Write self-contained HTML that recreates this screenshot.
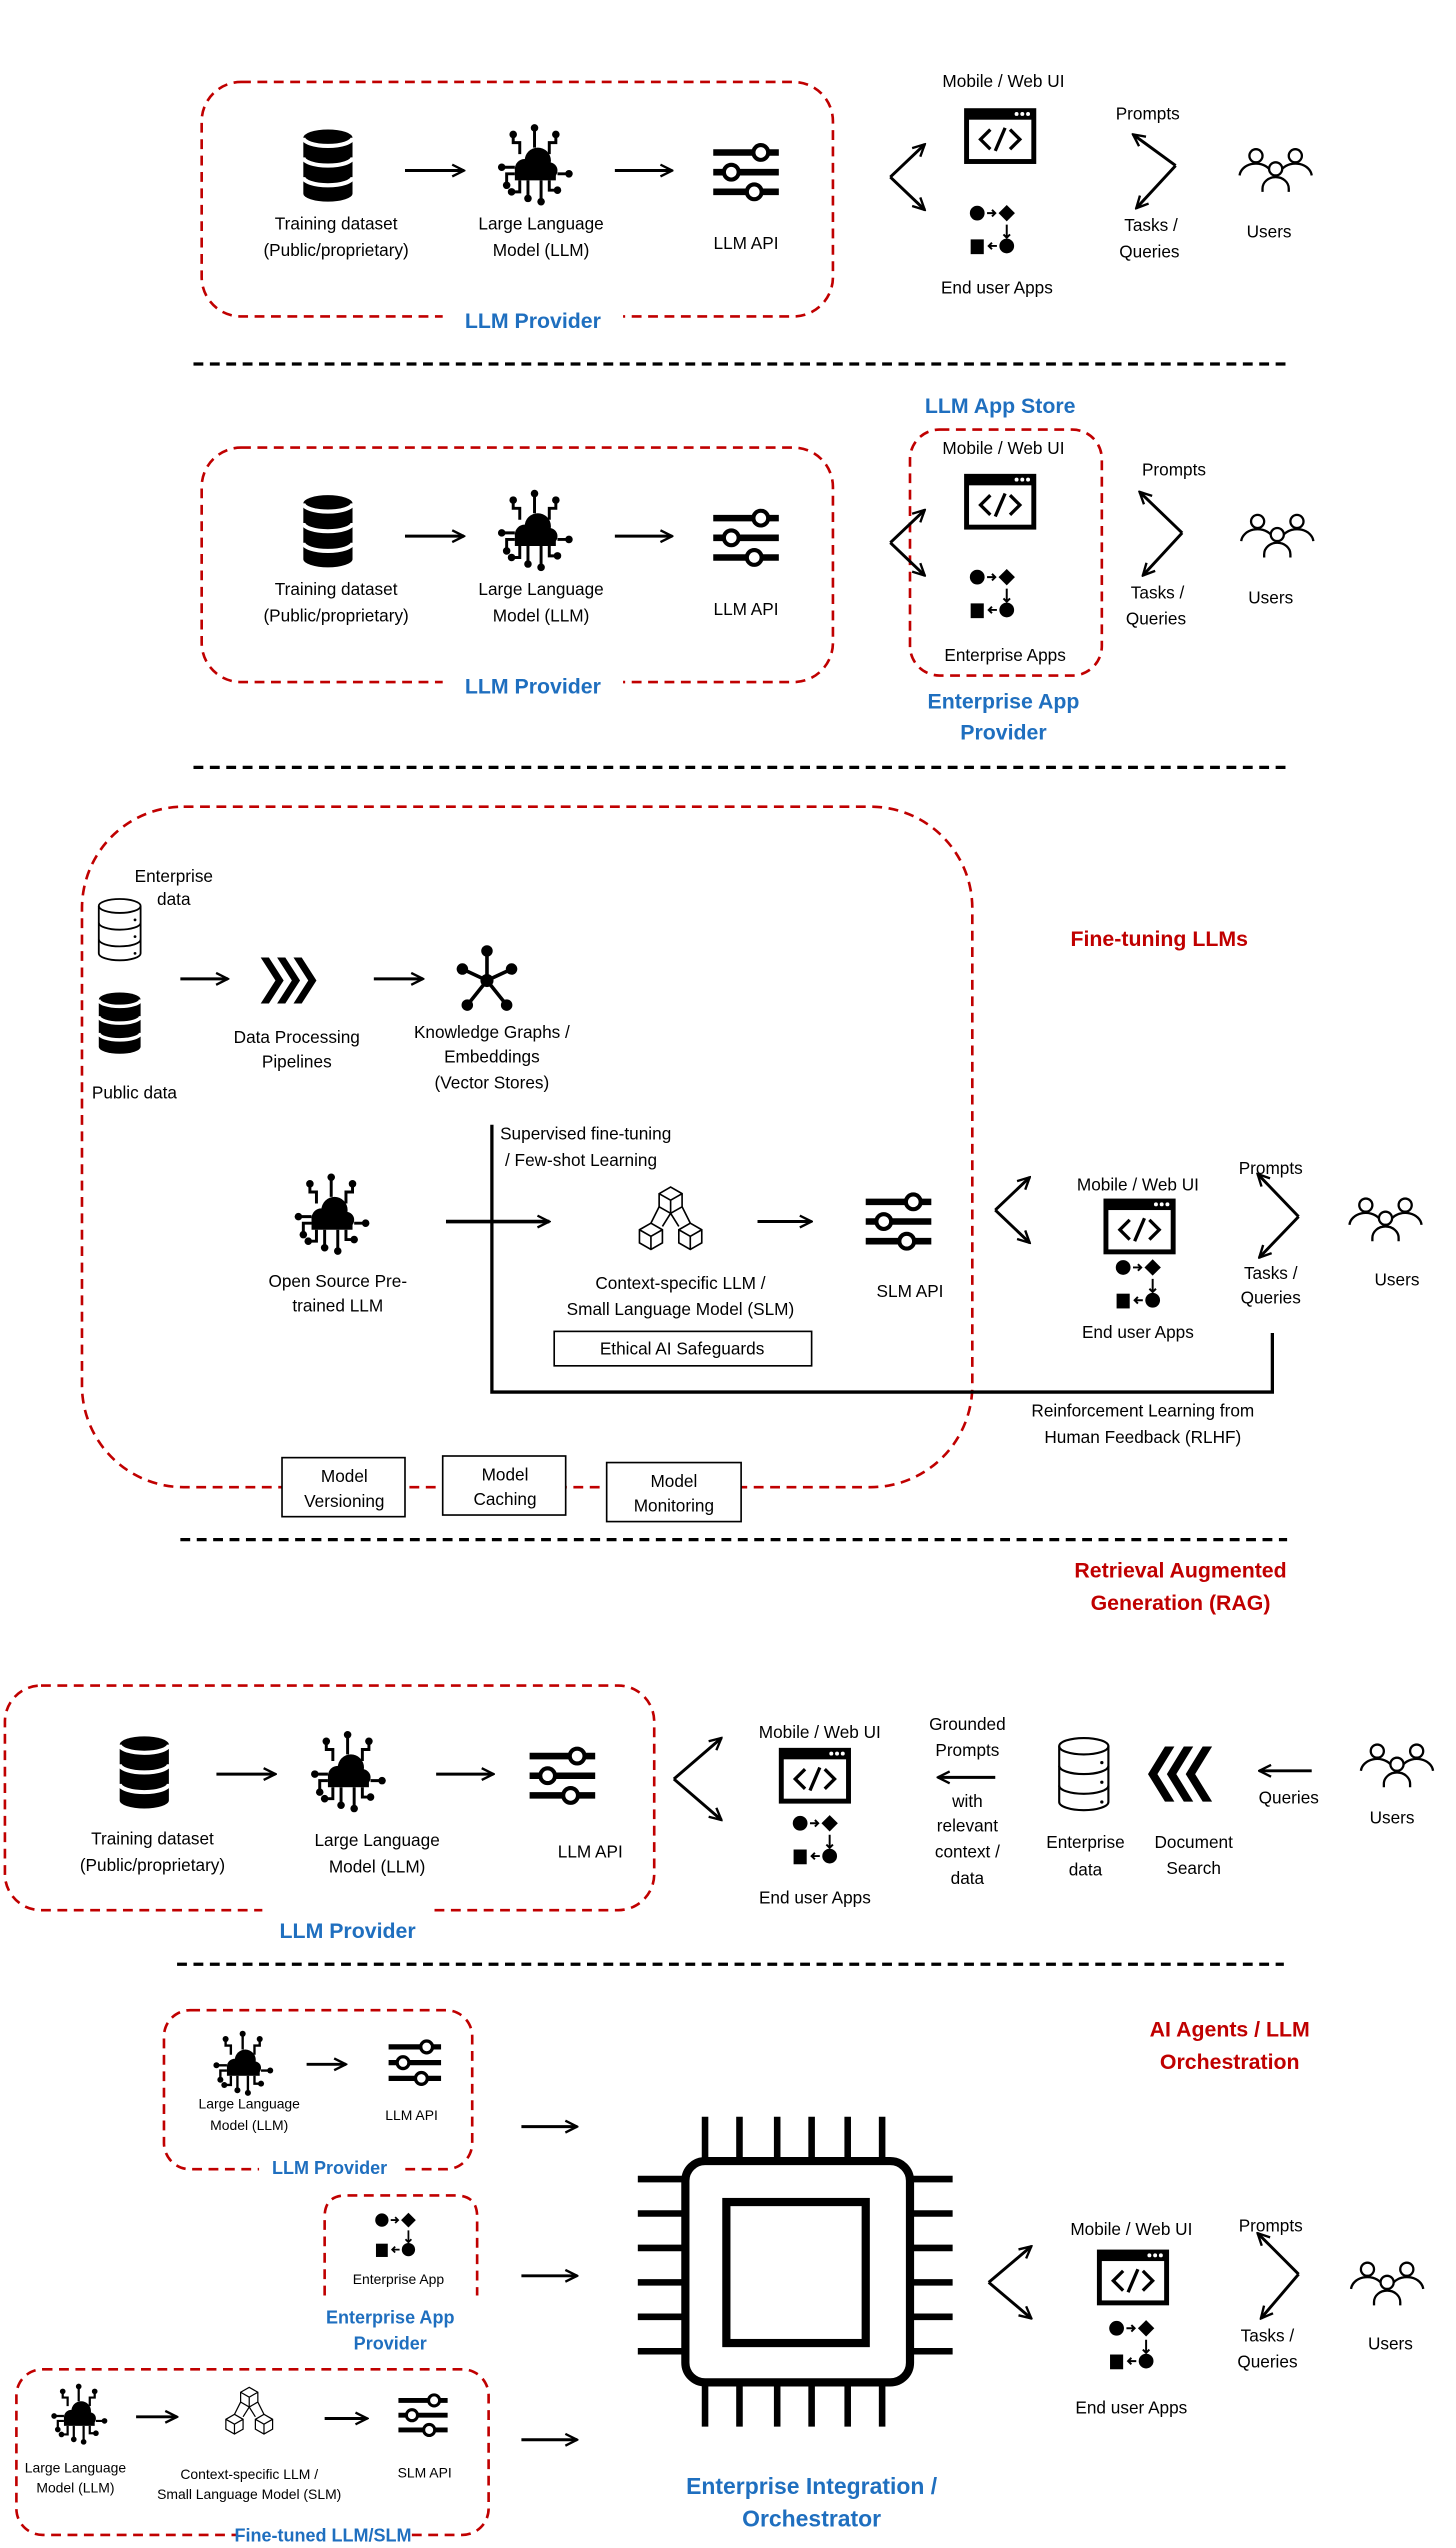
<!DOCTYPE html>
<html><head><meta charset="utf-8"><style>
html,body{margin:0;padding:0;background:#fff}
svg{display:block}
text{font-family:"Liberation Sans",sans-serif;fill:#000}
.t{font-size:10.5px;text-anchor:middle}
.s{font-size:8.5px;text-anchor:middle}
.b{font-size:13px;font-weight:bold;fill:#1f6fbf;text-anchor:middle}
.r{font-size:13px;font-weight:bold;fill:#c00000;text-anchor:middle}
.dash{fill:none;stroke:#c00000;stroke-width:1.6;stroke-dasharray:6,4}
.div{stroke:#000;stroke-width:2;stroke-dasharray:6,4}
.ar{stroke:#000;stroke-width:1.8;fill:none;marker-end:url(#a)}
.bx{fill:#fff;stroke:#000;stroke-width:1}
</style></head><body>
<svg width="1456" height="2548" viewBox="0 0 888 1554" xmlns="http://www.w3.org/2000/svg">
<defs>
<marker id="a" viewBox="0 0 10 10" refX="9" refY="5" markerWidth="9" markerHeight="9" markerUnits="userSpaceOnUse" orient="auto"><path d="M1,1 L9,5 L1,9" fill="none" stroke="#000" stroke-width="1.6"/></marker>
<g id="db"><path d="M-15,-17 a15,5 0 0 1 30,0 v34 a15,5 0 0 1 -30,0z" fill="#000"/><path d="M-15,-17 a15,5 0 0 0 30,0 M-15,-5 a15,5 0 0 0 30,0 M-15,7 a15,5 0 0 0 30,0" stroke="#fff" stroke-width="2.5" fill="none"/></g>
<g id="dbo"><path d="M-15,-17 a15,5 0 0 1 30,0 v34 a15,5 0 0 1 -30,0z" fill="#fff" stroke="#000" stroke-width="1.3"/><path d="M-15,-17 a15,5 0 0 0 30,0 M-15,-5 a15,5 0 0 0 30,0 M-15,7 a15,5 0 0 0 30,0" stroke="#000" stroke-width="1.3" fill="none"/><circle cx="11" cy="-7" r="1" fill="#000"/><circle cx="11" cy="5" r="1" fill="#000"/><circle cx="11" cy="17" r="1" fill="#000"/></g>
<g id="llm"><g fill="#000"><circle cx="-6" cy="3" r="6"/><circle cx="2" cy="-2" r="8"/><circle cx="9" cy="4" r="5"/><rect x="-12" y="3" width="25" height="7"/></g>
<g fill="none" stroke="#000" stroke-width="1.8"><path d="M0,-10 V-21 M-9,-6 V-13 H-13 V-17 M9,-6 V-13 H13 V-17 M-12,6 H-17 V12 M14,6 H20 M-12,2 H-20 M-4,10 V20 M4,10 V22 M-9,10 V17 H-13 M9,10 V16 H13"/></g>
<g fill="#000"><circle cx="0" cy="-22" r="2.3"/><circle cx="-13" cy="-18" r="2.3"/><circle cx="13" cy="-18" r="2.3"/><circle cx="-20" cy="2" r="2.3"/><circle cx="21" cy="6" r="2.3"/><circle cx="-17" cy="13" r="2.3"/><circle cx="-4" cy="21" r="2.3"/><circle cx="4" cy="23" r="2.3"/><circle cx="-14" cy="17" r="2.3"/><circle cx="14" cy="16" r="2.3"/></g></g>
<g id="sl"><g stroke="#000" stroke-width="4"><line x1="-20" y1="-12" x2="20" y2="-12"/><line x1="-20" y1="0" x2="20" y2="0"/><line x1="-20" y1="12" x2="20" y2="12"/></g><g fill="#fff" stroke="#000" stroke-width="2.5"><circle cx="9" cy="-12" r="4.5"/><circle cx="-9" cy="0" r="4.5"/><circle cx="5" cy="12" r="4.5"/></g></g>
<g id="win"><rect x="-22" y="-17" width="44" height="34" fill="#000"/><rect x="-19" y="-10" width="38" height="24" fill="#fff"/><circle cx="10" cy="-13.5" r="1.2" fill="#fff"/><circle cx="13.5" cy="-13.5" r="1.2" fill="#fff"/><circle cx="17" cy="-13.5" r="1.2" fill="#fff"/><path d="M-6,-4 L-12,2 L-6,8 M6,-4 L12,2 L6,8 M3,-5 L-3,9" stroke="#000" stroke-width="2" fill="none"/></g>
<g id="flow"><circle cx="-9" cy="-10" r="4.5" fill="#000"/><path d="M9,-15 L14,-10 L9,-5 L4,-10z" fill="#000"/><path d="M-3,-10 H2 M0,-12 L2,-10 L0,-8 M9,-3 V5 M7,3 L9,5 L11,3 M3,10 H-2 M0,8 L-2,10 L0,12" stroke="#000" stroke-width="1.2" fill="none"/><rect x="-13" y="6" width="8" height="9" fill="#000"/><circle cx="9" cy="10" r="4.5" fill="#000"/></g>
<g id="usr" fill="none" stroke="#000" stroke-width="1.4"><circle cx="-12" cy="-9" r="4"/><circle cx="12" cy="-9" r="4"/><circle cx="0" cy="-1" r="4"/><path d="M-22,3 a10,8 0 0 1 18,-4 M22,3 a10,8 0 0 0 -18,-4 M-8,13 v-2 a8,7 0 0 1 16,0 v2"/></g>
<g id="graph"><g stroke="#000" stroke-width="2.2"><line x1="0" y1="0" x2="0" y2="-18"/><line x1="0" y1="0" x2="-15" y2="-7"/><line x1="0" y1="0" x2="15" y2="-7"/><line x1="0" y1="0" x2="-12" y2="15"/><line x1="0" y1="0" x2="12" y2="15"/></g><g fill="#000"><circle r="4"/><circle cy="-18" r="3.5"/><circle cx="-15" cy="-7" r="3.5"/><circle cx="15" cy="-7" r="3.5"/><circle cx="-12" cy="15" r="3.5"/><circle cx="12" cy="15" r="3.5"/></g></g>
<g id="chev" fill="#000"><path d="M-15,-14 h5 l9,14 l-9,14 h-5 l9,-14z"/><path d="M-5,-14 h5 l9,14 l-9,14 h-5 l9,-14z"/><path d="M5,-14 h5 l9,14 l-9,14 h-5 l9,-14z"/></g>
<g id="cube" fill="none" stroke="#000" stroke-width="1"><path d="M-7,-20 l7,-4 l7,4 v8 l-7,4 l-7,-4z M-7,-20 l7,4 l7,-4 M0,-16 v8"/><path d="M-19,2 l7,-4 l7,4 v8 l-7,4 l-7,-4z M-19,2 l7,4 l7,-4 M-12,6 v8"/><path d="M5,2 l7,-4 l7,4 v8 l-7,4 l-7,-4z M5,2 l7,4 l7,-4 M12,6 v8"/><path d="M-5,0 L0,-8 L5,0 M-7,-12 l-5,10 M7,-12 l5,10"/></g>
</defs>

<!-- ===== Section 1 ===== -->
<rect class="dash" x="123" y="50" width="385" height="143" rx="24"/>
<rect x="270" y="186" width="110" height="16" fill="#fff"/>
<text class="b" x="325" y="200">LLM Provider</text>
<use href="#db" x="200" y="101"/>
<line class="ar" x1="247" y1="104" x2="283" y2="104"/>
<use href="#llm" x="326" y="100"/>
<line class="ar" x1="375" y1="104" x2="410" y2="104"/>
<use href="#sl" x="455" y="105"/>
<text class="t" x="205" y="140">Training dataset</text>
<text class="t" x="205" y="156">(Public/proprietary)</text>
<text class="t" x="330" y="140">Large Language</text>
<text class="t" x="330" y="156">Model (LLM)</text>
<text class="t" x="455" y="152">LLM API</text>
<path d="M543,108 L564,88" class="ar"/><path d="M543,108 L564,128" class="ar"/>
<text class="t" x="612" y="53">Mobile / Web UI</text>
<use href="#win" x="610" y="83"/>
<use href="#flow" x="605" y="140"/>
<text class="t" x="608" y="179">End user Apps</text>
<text class="t" x="700" y="73">Prompts</text>
<path d="M717,101 L691,82" class="ar"/><path d="M717,101 L693,127" class="ar"/>
<text class="t" x="702" y="141">Tasks /</text>
<text class="t" x="701" y="157">Queries</text>
<use href="#usr" x="778" y="104"/>
<text class="t" x="774" y="145">Users</text>
<line class="div" x1="118" y1="222" x2="785" y2="222"/>

<!-- ===== Section 2 ===== -->
<text class="b" x="610" y="252">LLM App Store</text>
<rect class="dash" x="123" y="273" width="385" height="143" rx="24"/>
<rect x="270" y="409" width="110" height="16" fill="#fff"/>
<text class="b" x="325" y="423">LLM Provider</text>
<use href="#db" x="200" y="324"/>
<line class="ar" x1="247" y1="327" x2="283" y2="327"/>
<use href="#llm" x="326" y="323"/>
<line class="ar" x1="375" y1="327" x2="410" y2="327"/>
<use href="#sl" x="455" y="328"/>
<text class="t" x="205" y="363">Training dataset</text>
<text class="t" x="205" y="379">(Public/proprietary)</text>
<text class="t" x="330" y="363">Large Language</text>
<text class="t" x="330" y="379">Model (LLM)</text>
<text class="t" x="455" y="375">LLM API</text>
<rect class="dash" x="555" y="262" width="117" height="150" rx="18"/>
<path d="M543,331 L564,311" class="ar"/><path d="M543,331 L564,351" class="ar"/>
<text class="t" x="612" y="277">Mobile / Web UI</text>
<use href="#win" x="610" y="306"/>
<use href="#flow" x="605" y="362"/>
<text class="t" x="613" y="403">Enterprise Apps</text>
<rect x="560" y="416" width="108" height="40" fill="#fff"/>
<text class="b" x="612" y="432">Enterprise App</text>
<text class="b" x="612" y="451">Provider</text>
<text class="t" x="716" y="290">Prompts</text>
<path d="M721,325 L695,300" class="ar"/><path d="M721,325 L697,351" class="ar"/>
<text class="t" x="706" y="365">Tasks /</text>
<text class="t" x="705" y="381">Queries</text>
<use href="#usr" x="779" y="327"/>
<text class="t" x="775" y="368">Users</text>
<line class="div" x1="118" y1="468" x2="785" y2="468"/>

<!-- ===== Section 3 ===== -->
<rect class="dash" x="50" y="492" width="543" height="415" rx="62"/>
<text class="r" x="707" y="577">Fine-tuning LLMs</text>
<text class="t" x="106" y="538">Enterprise</text>
<text class="t" x="106" y="552">data</text>
<use href="#dbo" x="73" y="567" transform="translate(73 567) scale(0.85) translate(-73 -567)"/>
<use href="#db" x="73" y="624" transform="translate(73 624) scale(0.85) translate(-73 -624)"/>
<text class="t" x="82" y="670">Public data</text>
<line class="ar" x1="110" y1="597" x2="139" y2="597"/>
<use href="#chev" x="174" y="598"/>
<line class="ar" x1="228" y1="597" x2="258" y2="597"/>
<use href="#graph" x="297" y="598"/>
<text class="t" x="181" y="636">Data Processing</text>
<text class="t" x="181" y="651">Pipelines</text>
<text class="t" x="300" y="633">Knowledge Graphs /</text>
<text class="t" x="300" y="648">Embeddings</text>
<text class="t" x="300" y="664">(Vector Stores)</text>
<path d="M300,686 V849 H776 V813" stroke="#000" stroke-width="2" fill="none"/>
<text x="305" y="695" style="font-size:10.5px">Supervised fine-tuning</text>
<text x="308" y="711" style="font-size:10.5px">/ Few-shot Learning</text>
<use href="#llm" x="202" y="740"/>
<text class="t" x="206" y="785">Open Source Pre-</text>
<text class="t" x="206" y="800">trained LLM</text>
<line class="ar" x1="272" y1="745" x2="335" y2="745" style="stroke-width:2.2"/>
<use href="#cube" x="409" y="748"/>
<line class="ar" x1="462" y1="745" x2="495" y2="745"/>
<use href="#sl" x="548" y="745"/>
<text class="t" x="415" y="786">Context-specific LLM /</text>
<text class="t" x="415" y="802">Small Language Model (SLM)</text>
<text class="t" x="555" y="791">SLM API</text>
<rect class="bx" x="338" y="812" width="157" height="21"/>
<text class="t" x="416" y="826">Ethical AI Safeguards</text>
<path d="M607,738 L628,718" class="ar"/><path d="M607,738 L628,758" class="ar"/>
<text class="t" x="694" y="726">Mobile / Web UI</text>
<use href="#win" x="695" y="748"/>
<use href="#flow" x="694" y="783"/>
<text class="t" x="694" y="816">End user Apps</text>
<text class="t" x="775" y="716">Prompts</text>
<path d="M792,742 L767,716" class="ar"/><path d="M792,742 L768,767" class="ar"/>
<text class="t" x="775" y="780">Tasks /</text>
<text class="t" x="775" y="795">Queries</text>
<use href="#usr" x="845" y="744"/>
<text class="t" x="852" y="784">Users</text>
<text class="t" x="697" y="864">Reinforcement Learning from</text>
<text class="t" x="697" y="880">Human Feedback (RLHF)</text>
<rect class="bx" x="172" y="889" width="75" height="36"/>
<text class="t" x="210" y="904">Model</text><text class="t" x="210" y="919">Versioning</text>
<rect class="bx" x="270" y="888" width="75" height="36"/>
<text class="t" x="308" y="903">Model</text><text class="t" x="308" y="918">Caching</text>
<rect class="bx" x="370" y="892" width="82" height="36"/>
<text class="t" x="411" y="907">Model</text><text class="t" x="411" y="922">Monitoring</text>
<line class="div" x1="110" y1="939" x2="785" y2="939"/>

<!-- ===== Section 4 RAG ===== -->
<text class="r" x="720" y="962">Retrieval Augmented</text>
<text class="r" x="720" y="982">Generation (RAG)</text>
<rect class="dash" x="3" y="1028" width="396" height="137" rx="22"/>
<rect x="160" y="1158" width="105" height="16" fill="#fff"/>
<text class="b" x="212" y="1182">LLM Provider</text>
<use href="#db" x="88" y="1081"/>
<line class="ar" x1="132" y1="1082" x2="168" y2="1082"/>
<use href="#llm" x="212" y="1080"/>
<line class="ar" x1="266" y1="1082" x2="301" y2="1082"/>
<use href="#sl" x="343" y="1083"/>
<text class="t" x="93" y="1125">Training dataset</text>
<text class="t" x="93" y="1141">(Public/proprietary)</text>
<text class="t" x="230" y="1126">Large Language</text>
<text class="t" x="230" y="1142">Model (LLM)</text>
<text class="t" x="360" y="1133">LLM API</text>
<path d="M411,1085 L440,1060" class="ar"/><path d="M411,1085 L440,1110" class="ar"/>
<text class="t" x="500" y="1060">Mobile / Web UI</text>
<use href="#win" x="497" y="1083"/>
<use href="#flow" x="497" y="1122"/>
<text class="t" x="497" y="1161">End user Apps</text>
<text class="t" x="590" y="1055">Grounded</text>
<text class="t" x="590" y="1071">Prompts</text>
<line class="ar" x1="607" y1="1084" x2="572" y2="1084"/>
<text class="t" x="590" y="1102">with</text>
<text class="t" x="590" y="1117">relevant</text>
<text class="t" x="590" y="1133">context /</text>
<text class="t" x="590" y="1149">data</text>
<use href="#dbo" x="661" y="1082"/>
<text class="t" x="662" y="1127">Enterprise</text>
<text class="t" x="662" y="1144">data</text>
<use href="#chev" x="722" y="1082" transform="translate(722 1082) scale(-1.15 1.2) translate(-722 -1082)"/>
<text class="t" x="728" y="1127">Document</text>
<text class="t" x="728" y="1143">Search</text>
<line class="ar" x1="800" y1="1080" x2="768" y2="1080"/>
<text class="t" x="786" y="1100">Queries</text>
<use href="#usr" x="852" y="1077"/>
<text class="t" x="849" y="1112">Users</text>
<line class="div" x1="108" y1="1198" x2="783" y2="1198"/>

<!-- ===== Section 5 ===== -->
<text class="r" x="750" y="1242">AI Agents / LLM</text>
<text class="r" x="750" y="1262">Orchestration</text>
<rect class="dash" x="100" y="1226" width="188" height="97" rx="16"/>
<rect x="158" y="1315" width="88" height="14" fill="#fff"/>
<text class="b" x="201" y="1326" style="font-size:11px">LLM Provider</text>
<use href="#llm" x="148" y="1258" transform="translate(148 1258) scale(0.8) translate(-148 -1258)"/>
<line class="ar" x1="187" y1="1259" x2="211" y2="1259"/>
<use href="#sl" x="253" y="1258" transform="translate(253 1258) scale(0.8) translate(-253 -1258)"/>
<text class="s" x="152" y="1286">Large Language</text>
<text class="s" x="152" y="1299">Model (LLM)</text>
<text class="s" x="251" y="1293">LLM API</text>
<line class="ar" x1="318" y1="1297" x2="352" y2="1297"/>
<path class="dash" d="M198,1400 V1352 Q198,1339 211,1339 H278 Q291,1339 291,1352 V1400"/>
<use href="#flow" x="241" y="1363" transform="translate(241 1363) scale(0.9) translate(-241 -1363)"/>
<text class="s" x="243" y="1393">Enterprise App</text>
<text class="b" x="238" y="1417" style="font-size:11px">Enterprise App</text>
<text class="b" x="238" y="1433" style="font-size:11px">Provider</text>
<line class="ar" x1="318" y1="1388" x2="352" y2="1388"/>
<rect class="dash" x="10" y="1445" width="288" height="101" rx="16"/>
<rect x="145" y="1539" width="105" height="14" fill="#fff"/>
<text class="b" x="197" y="1550" style="font-size:11px">Fine-tuned LLM/SLM</text>
<use href="#llm" x="48" y="1472" transform="translate(48 1472) scale(0.75) translate(-48 -1472)"/>
<line class="ar" x1="83" y1="1474" x2="108" y2="1474"/>
<use href="#cube" x="152" y="1474" transform="translate(152 1474) scale(0.75) translate(-152 -1474)"/>
<line class="ar" x1="198" y1="1475" x2="224" y2="1475"/>
<use href="#sl" x="258" y="1473" transform="translate(258 1473) scale(0.75) translate(-258 -1473)"/>
<text class="s" x="46" y="1508">Large Language</text>
<text class="s" x="46" y="1520">Model (LLM)</text>
<text class="s" x="152" y="1512">Context-specific LLM /</text>
<text class="s" x="152" y="1524">Small Language Model (SLM)</text>
<text class="s" x="259" y="1511">SLM API</text>
<line class="ar" x1="318" y1="1488" x2="352" y2="1488"/>
<!-- chip -->
<g stroke="#000" stroke-width="4" fill="none">
<path d="M430,1291 v26 M451,1291 v26 M474,1291 v26 M495,1291 v26 M517,1291 v26 M538,1291 v26"/>
<path d="M430,1454 v26 M451,1454 v26 M474,1454 v26 M495,1454 v26 M517,1454 v26 M538,1454 v26"/>
<path d="M389,1329 h27 M389,1350 h27 M389,1371 h27 M389,1392 h27 M389,1413 h27 M389,1434 h27"/>
<path d="M555,1329 h26 M555,1350 h26 M555,1371 h26 M555,1392 h26 M555,1413 h26 M555,1434 h26"/>
<rect x="418" y="1318" width="137" height="135" rx="12" stroke-width="5"/>
<rect x="443" y="1343" width="85" height="86" stroke-width="5"/>
</g>
<text class="b" x="495" y="1521" style="font-size:14px">Enterprise Integration /</text>
<text class="b" x="495" y="1541" style="font-size:14px">Orchestrator</text>
<path d="M603,1392 L629,1370" class="ar"/><path d="M603,1392 L629,1414" class="ar"/>
<text class="t" x="690" y="1363">Mobile / Web UI</text>
<use href="#win" x="691" y="1389"/>
<use href="#flow" x="690" y="1430"/>
<text class="t" x="690" y="1472">End user Apps</text>
<text class="t" x="775" y="1361">Prompts</text>
<path d="M792,1387 L767,1362" class="ar"/><path d="M792,1387 L769,1414" class="ar"/>
<text class="t" x="773" y="1428">Tasks /</text>
<text class="t" x="773" y="1444">Queries</text>
<use href="#usr" x="846" y="1393"/>
<text class="t" x="848" y="1433">Users</text>
</svg>
</body></html>
